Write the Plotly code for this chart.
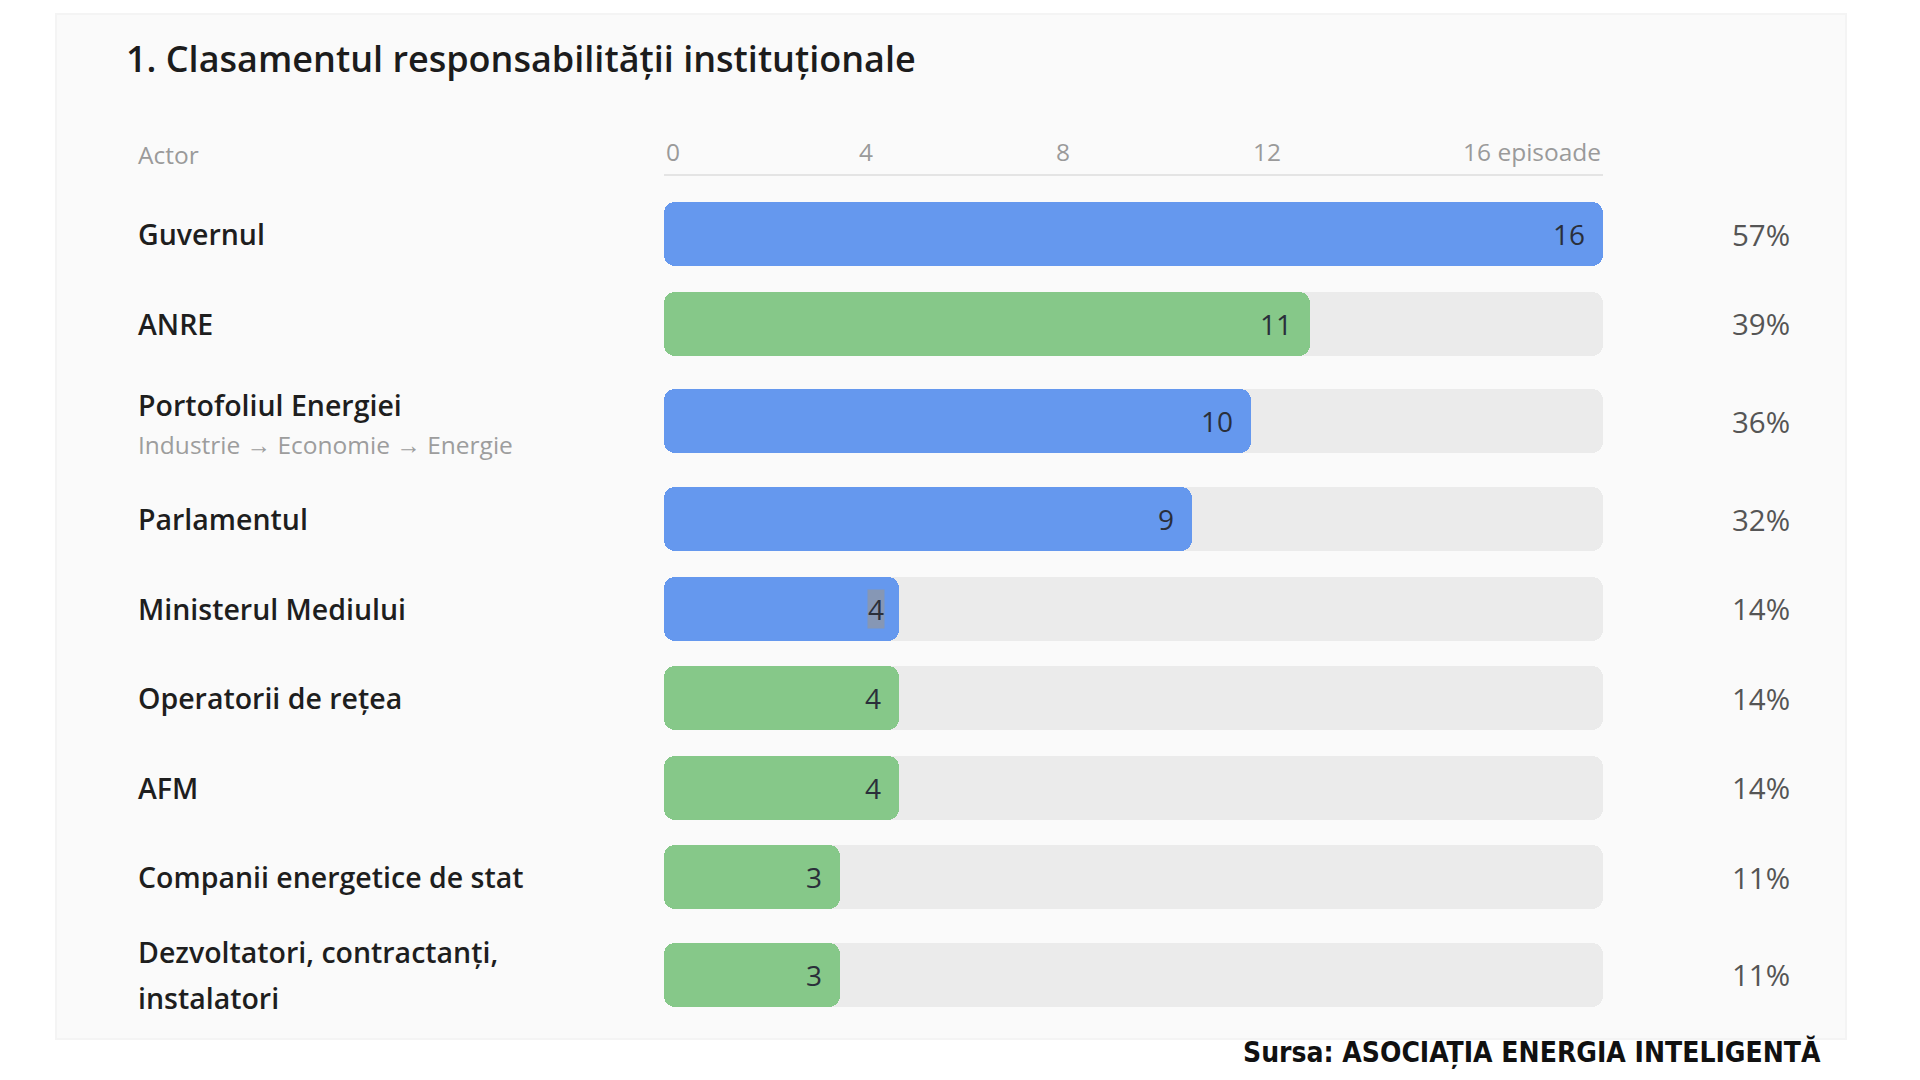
import plotly.graph_objects as go

# ---------------- data ----------------
actors = [
    "Guvernul",
    "ANRE",
    "Portofoliul Energiei",
    "Parlamentul",
    "Ministerul Mediului",
    "Operatorii de rețea",
    "AFM",
    "Companii energetice de stat",
    "Dezvoltatori, contractanți,\ninstalatori",
]
subtitles = ["", "", "Industrie → Economie → Energie", "", "", "", "", "", ""]
episodes = [16, 11, 10, 9, 4, 4, 4, 3, 3]
shares_pct = [57, 39, 36, 32, 14, 14, 14, 11, 11]
groups = ["stat", "reg", "stat", "stat", "stat", "reg", "reg", "reg", "reg"]
highlighted = [False, False, False, False, True, False, False, False, False]
header_labels = ["0", "4", "8", "12", "16 episoade"]
scale_max = 16
title = "1. Clasamentul responsabilității instituționale"
column_title = "Actor"
source = "Sursa: ASOCIAȚIA ENERGIA INTELIGENTĂ"

# ---------------- style / layout (page pixel units) ----------------
PAGE_OFF = 8                      # default body margin of the html page
FW, FH = 1920 - PAGE_OFF * 2, 1080 - PAGE_OFF * 2


def px(p):
    """page x pixel -> paper fraction"""
    return (p - PAGE_OFF) / FW


FONT = "Open Sans"
COLORS = {"stat": "#6598ee", "reg": "#86c889"}
TRACK = "#ebebeb"
CARD = "#fafafa"
BAR_L, BAR_R = 664, 1603
LABEL_X = 136
PCT_RIGHT = 1792
FIRST_ROW = 234
ROW_H1, ROW_H2 = 89.5, 106
BAR_H = 64
RADIUS = 11
HEADER_Y = 151
HEADER_LINE_Y = 175
HEADER_POS = [664, 866, 1063, 1267, 1603]       # label anchor px
HEADER_ANCH = ["left", "center", "center", "center", "right"]

# row centre positions from row heights (two-line rows are taller)
n_lines = [2 if ("\n" in a or s) else 1 for a, s in zip(actors, subtitles)]
heights = [ROW_H2 if k == 2 else ROW_H1 for k in n_lines]
ypos = [FIRST_ROW]
for i in range(1, len(actors)):
    ypos.append(ypos[-1] + (heights[i - 1] + heights[i]) / 2)

bar_colors = [COLORS[g] for g in groups]
nrow = len(actors)


def hbar(x, base, colors, radius):
    return go.Bar(x=x, base=base, y=ypos, orientation="h", width=BAR_H,
                  marker=dict(color=colors, cornerradius=radius, line=dict(width=0)),
                  hoverinfo="skip", showlegend=False)


fig = go.Figure()
# background track: drawn from its right end leftwards (rounded left end) ...
fig.add_trace(hbar([-scale_max] * nrow, [scale_max] * nrow, TRACK, RADIUS))
# ... and its right half drawn rightwards (rounded right end)
fig.add_trace(hbar([scale_max / 2] * nrow, [scale_max / 2] * nrow, TRACK, RADIUS))
# value bar: drawn from its value leftwards so the left end is rounded
fig.add_trace(hbar([-v for v in episodes], episodes, bar_colors, RADIUS))
# bars that fill the whole track also get a rounded right end
full_len = [v / 2 if v >= scale_max else 0 for v in episodes]
fig.add_trace(hbar(full_len, [v / 2 for v in episodes], bar_colors, RADIUS))

ann = []
# title
ann.append(dict(x=px(124), y=58, xref="paper", yref="y", xanchor="left", yanchor="middle",
                text=title, showarrow=False,
                font=dict(family=FONT, size=36, color="#1c1c1c", weight=600)))
# column header
ann.append(dict(x=px(LABEL_X), y=HEADER_Y + 3, xref="paper", yref="y", xanchor="left",
                yanchor="middle", text=column_title, showarrow=False,
                font=dict(family=FONT, size=24.5, color="#9a9a9a")))
for lab, p, an in zip(header_labels, HEADER_POS, HEADER_ANCH):
    ann.append(dict(x=px(p), y=HEADER_Y, xref="paper", yref="y", xanchor=an,
                    yanchor="middle", text=lab, showarrow=False,
                    font=dict(family=FONT, size=24.5, color="#9a9a9a")))

for i, (a, s, v, p, y) in enumerate(zip(actors, subtitles, episodes, shares_pct, ypos)):
    lines = a.split("\n")
    if len(lines) == 2:
        offs = [23, -23]
    elif s:
        offs = [16]
    else:
        offs = [0]
    for line, off in zip(lines, offs):
        ann.append(dict(x=px(LABEL_X), y=y, yshift=off, xref="paper", yref="y",
                        xanchor="left", yanchor="middle", text=line, showarrow=False,
                        font=dict(family=FONT, size=28.5, color="#1e1e1e", weight=600)))
    if s:
        ann.append(dict(x=px(LABEL_X), y=y, yshift=-23, xref="paper", yref="y",
                        xanchor="left", yanchor="middle", text=s, showarrow=False,
                        font=dict(family=FONT, size=24.5, color="#9d9d9d")))
    # value label inside bar
    vd = dict(x=v, y=y, xshift=-16, xref="x", yref="y", xanchor="right", yanchor="middle",
              text=str(v), showarrow=False,
              font=dict(family=FONT, size=28, color="#2a2f3a"))
    if highlighted[i]:
        vd.update(bgcolor="rgba(140,150,170,0.85)", borderpad=0, xshift=-14)
    ann.append(vd)
    # share
    ann.append(dict(x=px(PCT_RIGHT), y=y, xref="paper", yref="y", xanchor="right",
                    yanchor="middle", text=f"{p}%", showarrow=False,
                    font=dict(family=FONT, size=29.5, color="#555555")))

# source
ann.append(dict(x=px(1823), y=1052, xref="paper", yref="y", xanchor="right", yanchor="middle",
                text=source, showarrow=False,
                font=dict(family="Liberation Sans Narrow, DejaVu Sans Condensed, sans-serif",
                          size=28, color="#111111", weight="bold")))

shapes = [
    dict(type="rect", xref="paper", yref="y", x0=px(55), x1=px(1847), y0=13, y1=1040,
         fillcolor="#f4f4f4", line=dict(width=0), layer="below"),
    dict(type="rect", xref="paper", yref="y", x0=px(57), x1=px(1845), y0=15, y1=1038,
         fillcolor=CARD, line=dict(width=0), layer="below"),
    dict(type="line", xref="x", yref="y", x0=0, x1=scale_max, y0=HEADER_LINE_Y, y1=HEADER_LINE_Y,
         line=dict(color="#e4e4e4", width=2), layer="below"),
]

fig.update_layout(
    width=FW, height=FH, margin=dict(l=0, r=0, t=0, b=0),
    paper_bgcolor="white", plot_bgcolor="rgba(0,0,0,0)",
    barmode="overlay", bargap=0,
    xaxis=dict(domain=[px(BAR_L), px(BAR_R)], range=[0, scale_max], visible=False,
               fixedrange=True),
    yaxis=dict(domain=[0, 1], range=[PAGE_OFF + FH, PAGE_OFF], visible=False,
               fixedrange=True),
    annotations=ann, shapes=shapes, showlegend=False,
)

fig.write_html("out.html")
